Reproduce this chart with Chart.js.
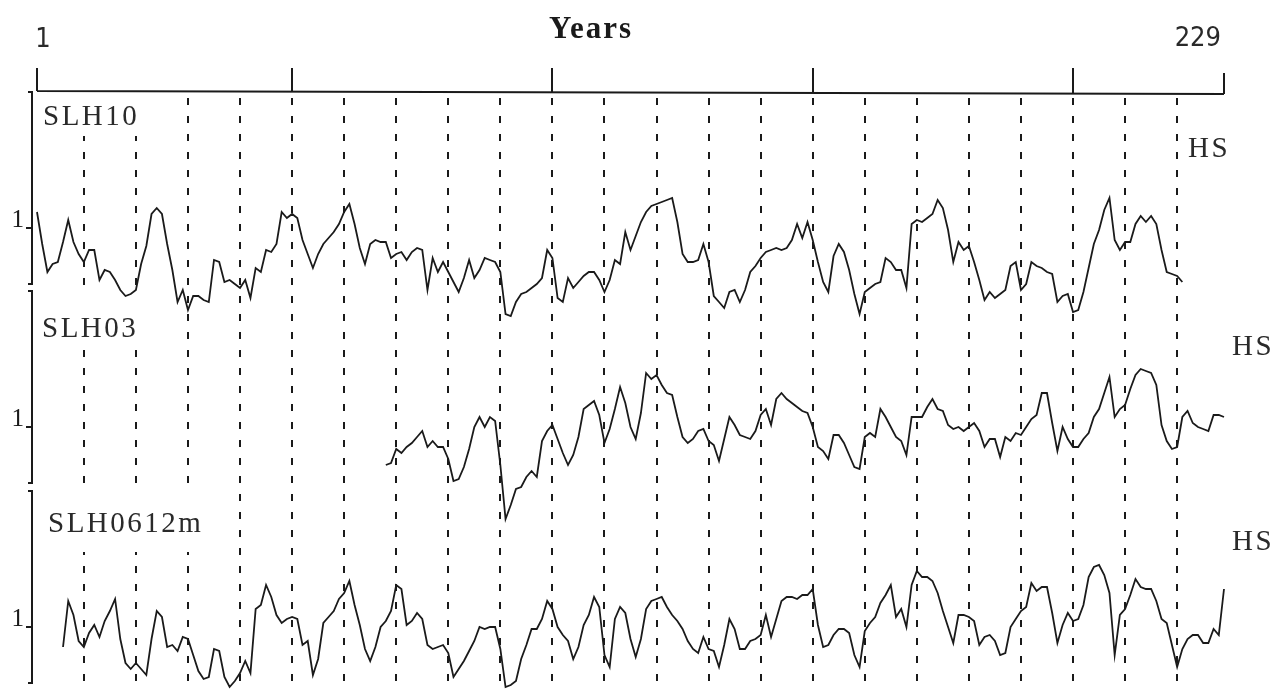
<!DOCTYPE html>
<html>
<head>
<meta charset="utf-8">
<script src="https://cdn.jsdelivr.net/npm/chart.js@4.4.1/dist/chart.umd.min.js"></script>
<style>
  html, body { margin: 0; padding: 0; background: #fff; }
  #wrap { width: 1288px; height: 697px; position: relative; }
</style>
</head>
<body>
<div id="wrap"><canvas id="chart"></canvas></div>
<script>
// years on the top axis
const firstYear = 1, lastYear = 229;
const majorYears = [1, 50, 100, 150, 200, 229];
const dashYears = [10, 20, 30, 40, 50, 60, 70, 80, 90, 100, 110, 120, 130, 140, 150, 160, 170, 180, 190, 200, 210, 220];

// the three chronologies (index values, one per year)
const seriesNames = ['SLH10', 'SLH03', 'SLH0612m'];
const seriesStart = [1, 68, 6];

const slh10 = [
  1.08, 0.92, 0.78, 0.82, 0.83, 0.93, 1.04, 0.93, 0.87, 0.83,
  0.89, 0.89, 0.74, 0.79, 0.78, 0.74, 0.69, 0.66, 0.67, 0.69,
  0.82, 0.91, 1.07, 1.10, 1.07, 0.92, 0.79, 0.63, 0.69, 0.59,
  0.66, 0.66, 0.64, 0.63, 0.84, 0.83, 0.73, 0.74, 0.72, 0.70,
  0.74, 0.65, 0.80, 0.78, 0.89, 0.88, 0.92, 1.08, 1.05, 1.07,
  1.05, 0.94, 0.87, 0.80, 0.87, 0.92, 0.95, 0.98, 1.02, 1.08,
  1.12, 1.02, 0.90, 0.82, 0.92, 0.94, 0.93, 0.93, 0.85, 0.87,
  0.88, 0.84, 0.88, 0.90, 0.89, 0.69, 0.85, 0.78, 0.83, 0.78,
  0.73, 0.68, 0.75, 0.84, 0.75, 0.79, 0.85, 0.84, 0.83, 0.78,
  0.57, 0.56, 0.63, 0.67, 0.68, 0.70, 0.72, 0.75, 0.89, 0.85,
  0.65, 0.63, 0.75, 0.70, 0.73, 0.76, 0.78, 0.78, 0.74, 0.68,
  0.74, 0.84, 0.82, 0.98, 0.89, 0.96, 1.03, 1.08, 1.11, 1.12,
  1.13, 1.14, 1.15, 1.03, 0.87, 0.83, 0.83, 0.84, 0.92, 0.83,
  0.66, 0.63, 0.60, 0.68, 0.69, 0.63, 0.69, 0.78, 0.81, 0.85,
  0.88, 0.89, 0.90, 0.89, 0.90, 0.94, 1.02, 0.95, 1.03, 0.94,
  0.83, 0.73, 0.68, 0.86, 0.92, 0.88, 0.79, 0.67, 0.57, 0.68,
  0.70, 0.72, 0.73, 0.85, 0.83, 0.79, 0.79, 0.70, 1.02, 1.04,
  1.03, 1.05, 1.07, 1.14, 1.10, 0.99, 0.83, 0.93, 0.89, 0.91,
  0.83, 0.74, 0.64, 0.68, 0.65, 0.67, 0.69, 0.81, 0.83, 0.69,
  0.72, 0.83, 0.81, 0.80, 0.78, 0.77, 0.63, 0.66, 0.67, 0.58,
  0.59, 0.68, 0.80, 0.92, 0.99, 1.09, 1.15, 0.94, 0.89, 0.93,
  0.93, 1.02, 1.06, 1.03, 1.06, 1.02, 0.89, 0.78, 0.77, 0.76,
  0.73
];

const slh03 = [
  0.81, 0.82, 0.89, 0.87, 0.90, 0.92, 0.95, 0.98, 0.90, 0.93,
  0.90, 0.90, 0.84, 0.73, 0.74, 0.80, 0.89, 1.00, 1.05, 1.00,
  1.05, 1.03, 0.81, 0.54, 0.61, 0.69, 0.70, 0.75, 0.78, 0.75,
  0.93, 0.98, 1.01, 0.94, 0.87, 0.81, 0.86, 0.95, 1.09, 1.11,
  1.13, 1.06, 0.92, 0.99, 1.09, 1.20, 1.12, 1.00, 0.94, 1.07,
  1.27, 1.24, 1.26, 1.21, 1.17, 1.16, 1.05, 0.95, 0.92, 0.94,
  0.98, 0.99, 0.93, 0.91, 0.83, 0.94, 1.05, 1.01, 0.96, 0.95,
  0.94, 0.98, 1.06, 1.09, 1.01, 1.14, 1.17, 1.14, 1.12, 1.10,
  1.08, 1.07, 1.00, 0.90, 0.88, 0.84, 0.96, 0.96, 0.92, 0.86,
  0.80, 0.79, 0.95, 0.97, 0.95, 1.09, 1.05, 1.00, 0.95, 0.93,
  0.86, 1.05, 1.05, 1.05, 1.10, 1.14, 1.09, 1.08, 1.01, 0.99,
  1.00, 0.98, 1.00, 1.02, 0.98, 0.90, 0.94, 0.94, 0.85, 0.95,
  0.93, 0.97, 0.96, 1.00, 1.04, 1.06, 1.17, 1.17, 1.02, 0.88,
  1.00, 0.94, 0.90, 0.90, 0.94, 0.97, 1.05, 1.09, 1.17, 1.25,
  1.05, 1.09, 1.11, 1.19, 1.26, 1.29, 1.28, 1.27, 1.21, 1.01,
  0.93, 0.89, 0.90, 1.05, 1.08, 1.02, 1.00, 0.99, 0.98, 1.06,
  1.06, 1.05
];

const slh0612m = [
  0.90, 1.13, 1.06, 0.93, 0.90, 0.97, 1.01, 0.95, 1.03, 1.08,
  1.14, 0.94, 0.82, 0.79, 0.82, 0.79, 0.76, 0.94, 1.08, 1.05,
  0.90, 0.91, 0.88, 0.95, 0.94, 0.86, 0.78, 0.74, 0.75, 0.89,
  0.88, 0.75, 0.70, 0.73, 0.77, 0.83, 0.77, 1.09, 1.11, 1.21,
  1.15, 1.06, 1.02, 1.04, 1.05, 1.04, 0.91, 0.93, 0.76, 0.84,
  1.02, 1.05, 1.08, 1.14, 1.17, 1.23, 1.11, 1.01, 0.89, 0.83,
  0.90, 1.00, 1.03, 1.08, 1.21, 1.19, 1.01, 1.03, 1.07, 1.04,
  0.91, 0.89, 0.90, 0.91, 0.87, 0.75, 0.79, 0.83, 0.88, 0.93,
  1.00, 0.99, 1.00, 1.00, 0.89, 0.70, 0.71, 0.73, 0.84, 0.91,
  0.99, 0.99, 1.04, 1.13, 1.09, 1.00, 0.96, 0.93, 0.84, 0.90,
  1.01, 1.06, 1.15, 1.10, 0.86, 0.80, 1.04, 1.10, 1.07, 0.94,
  0.85, 0.94, 1.09, 1.13, 1.14, 1.15, 1.10, 1.06, 1.03, 0.99,
  0.93, 0.89, 0.87, 0.95, 0.89, 0.88, 0.80, 0.91, 1.04, 0.99,
  0.89, 0.89, 0.93, 0.94, 0.96, 1.06, 0.95, 1.04, 1.13, 1.15,
  1.15, 1.14, 1.16, 1.16, 1.19, 1.01, 0.90, 0.91, 0.96, 0.99,
  0.99, 0.97, 0.86, 0.80, 0.98, 1.02, 1.05, 1.12, 1.16, 1.21,
  1.05, 1.09, 1.00, 1.21, 1.28, 1.25, 1.25, 1.23, 1.17, 1.08,
  1.00, 0.92, 1.06, 1.06, 1.05, 1.03, 0.91, 0.95, 0.96, 0.93,
  0.86, 0.87, 1.00, 1.04, 1.08, 1.10, 1.22, 1.18, 1.20, 1.20,
  1.07, 0.92, 1.01, 1.07, 1.03, 1.04, 1.11, 1.25, 1.30, 1.31,
  1.26, 1.17, 0.86, 1.06, 1.09, 1.16, 1.24, 1.20, 1.19, 1.19,
  1.13, 1.04, 1.02, 0.91, 0.80, 0.89, 0.94, 0.96, 0.96, 0.92,
  0.92, 0.99, 0.96, 1.19
];

const seriesValues = [slh10, slh03, slh0612m];

const serif = '"Liberation Serif", "DejaVu Serif", serif';
const ink = '#1a1a1a';

// one y axis per panel, all over the full plot height, shifted so each series sits in its own band
const axisRanges = [[-1.345, 1.685], [-0.35, 2.68], [0.65, 3.68]];

const datasets = seriesValues.map((vals, i) => ({
  label: seriesNames[i],
  data: vals.map((v, k) => ({ x: seriesStart[i] + k, y: v })),
  yAxisID: 'y' + i,
  borderColor: ink,
  borderWidth: 1.8,
  pointRadius: 0,
  tension: 0,
  fill: false,
  clip: false
}));

const scales = {
  x: { type: 'linear', min: firstYear, max: lastYear, display: false }
};
axisRanges.forEach((r, i) => {
  scales['y' + i] = { type: 'linear', min: r[0], max: r[1], display: false };
});

// label boxes (white background blanks the dashed lines behind the names)
const nameBoxes = [
  { text: 'SLH10', x: 43, y: 125, box: [38, 92, 104, 44] },
  { text: 'SLH03', x: 42, y: 337, box: [38, 286, 104, 59] },
  { text: 'SLH0612m', x: 48, y: 532, box: [38, 486, 172, 66] }
];
const hsLabels = [[1188, 157], [1232, 355], [1232, 550]];

const decor = {
  id: 'decor',
  beforeDatasetsDraw(chart) {
    const { ctx, scales } = chart;
    const x = scales.x;
    ctx.save();
    ctx.strokeStyle = ink;
    ctx.lineWidth = 2;
    ctx.setLineDash([7, 11]);
    dashYears.forEach(yr => {
      const px = Math.round(x.getPixelForValue(yr));
      ctx.beginPath();
      ctx.moveTo(px, 98);
      ctx.lineTo(px, 684);
      ctx.stroke();
    });
    ctx.setLineDash([]);

    ctx.fillStyle = ink;
    ctx.font = '29px ' + serif;
    ctx.letterSpacing = '2.5px';
    ctx.textBaseline = 'alphabetic';
    ctx.textAlign = 'left';
    nameBoxes.forEach(n => {
      ctx.fillStyle = '#fff';
      ctx.fillRect(n.box[0], n.box[1], n.box[2], n.box[3]);
      ctx.fillStyle = '#2a2a2a';
      ctx.fillText(n.text, n.x, n.y);
    });
    hsLabels.forEach(p => ctx.fillText('HS', p[0], p[1]));
    ctx.restore();
  },
  afterDraw(chart) {
    const { ctx, scales } = chart;
    const x = scales.x;
    ctx.save();
    ctx.strokeStyle = ink;
    ctx.fillStyle = ink;
    ctx.lineWidth = 2;

    // top axis
    const x0 = x.getPixelForValue(firstYear), x1 = x.getPixelForValue(lastYear);
    ctx.beginPath();
    ctx.moveTo(x0, 91);
    ctx.lineTo(x1, 94);
    majorYears.forEach((yr, k) => {
      const px = Math.round(x.getPixelForValue(yr));
      const base = 91 + 3 * (yr - firstYear) / (lastYear - firstYear);
      ctx.moveTo(px, k === majorYears.length - 1 ? 73 : 68);
      ctx.lineTo(px, base);
    });
    ctx.stroke();

    ctx.fillStyle = '#2a2a2a';
    ctx.font = '27px "DejaVu Sans", sans-serif';
    ctx.fontStretch = 'condensed';
    ctx.textBaseline = 'alphabetic';
    ctx.textAlign = 'center';
    ctx.fillText(String(firstYear), x0 + 6, 47);
    ctx.textAlign = 'right';
    ctx.fillText(String(lastYear), x1 - 3, 46);
    ctx.fontStretch = 'normal';

    ctx.fillStyle = ink;
    ctx.font = 'bold 31px ' + serif;
    ctx.letterSpacing = '2px';
    ctx.textAlign = 'center';
    ctx.fillText('Years', 591, 38);
    ctx.letterSpacing = '0px';

    // panel brackets with the "1" mark
    ctx.font = '25px ' + serif;
    ctx.textAlign = 'right';
    [0, 1, 2].forEach(i => {
      const s = scales['y' + i];
      const top = Math.round(s.getPixelForValue(1.68));
      const bot = Math.round(s.getPixelForValue(0.72));
      const one = Math.round(s.getPixelForValue(1));
      ctx.beginPath();
      ctx.moveTo(28, top);
      ctx.lineTo(32, top);
      ctx.lineTo(32, bot);
      ctx.lineTo(28, bot);
      ctx.moveTo(26, one);
      ctx.lineTo(32, one);
      ctx.stroke();
      ctx.fillText('1', 24, one - 1);
    });
    ctx.restore();
  }
};

new Chart(document.getElementById('chart'), {
  type: 'line',
  data: { datasets },
  options: {
    responsive: true,
    maintainAspectRatio: false,
    animation: false,
    events: [],
    layout: { padding: { left: 37, right: 64, top: 91, bottom: 0 } },
    plugins: { legend: { display: false }, tooltip: { enabled: false } },
    scales
  },
  plugins: [decor]
});
</script>
</body>
</html>
